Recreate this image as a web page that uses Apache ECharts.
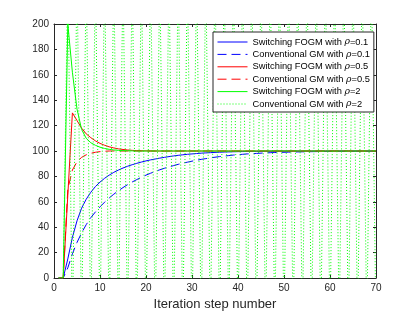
<!DOCTYPE html>
<html>
<head>
<meta charset="utf-8">
<script src="https://cdn.jsdelivr.net/npm/echarts@6/dist/echarts.min.js"></script>
<style>html,body{margin:0;padding:0;background:#fff}#c{width:415px;height:312px}</style>
</head>
<body>
<div id="c"></div>
<script>
var steps = [1,2,3,4,5,6,7,8,9,10,11,12,13,14,15,16,17,18,19,20,21,22,23,24,25,26,27,28,29,30,31,32,33,34,35,36,37,38,39,40,41,42,43,44,45,46,47,48,49,50,51,52,53,54,55,56,57,58,59,60,61,62,63,64,65,66,67,68,69,70];
var xTicks = [0,10,20,30,40,50,60,70];
var yTicks = [0,20,40,60,80,100,120,140,160,180,200];
var seriesNames = ['Switching FOGM with ρ=0.1','Conventional GM with ρ=0.1','Switching FOGM with ρ=0.5','Conventional GM with ρ=0.5','Switching FOGM with ρ=2','Conventional GM with ρ=2'];
var fogm01 = [0,0,15,32,45,55,62,67.5,72,75.5,78.5,81,83.2,85,86.6,88,89.2,90.3,91.3,92.2,93,93.7,94.4,95,95.6,96.1,96.6,97,97.4,97.7,98,98.3,98.5,98.7,98.9,99.05,99.2,99.3,99.4,99.5,99.55,99.6,99.65,99.7,99.75,99.78,99.8,99.83,99.86,99.88,99.9,99.91,99.92,99.93,99.94,99.95,99.95,99.96,99.96,99.97,99.97,99.97,99.98,99.98,99.98,99.99,99.99,99.99,99.99,99.99];
var gm01 = [0,0,8,19,28,35.5,42,47.5,52,56,59.7,63,66,68.7,71.2,73.5,75.6,77.5,79.3,81,82.5,83.9,85.2,86.4,87.5,88.5,89.5,90.4,91.2,92,92.7,93.4,94,94.6,95.1,95.6,96,96.4,96.8,97.1,97.4,97.7,97.9,98.1,98.3,98.5,98.65,98.8,98.9,99,99.1,99.2,99.28,99.35,99.42,99.48,99.53,99.58,99.62,99.66,99.7,99.73,99.76,99.78,99.8,99.82,99.84,99.86,99.87,99.88];
var fogm05 = [0,0,65,130,124,118,113.5,110.5,108,106,104.5,103.3,102.4,101.7,101.2,100.8,100.5,100.3,100.2,100.1,100.05,100,100,100,100,100,100,100,100,100,100,100,100,100,100,100,100,100,100,100,100,100,100,100,100,100,100,100,100,100,100,100,100,100,100,100,100,100,100,100,100,100,100,100,100,100,100,100,100,100];
var gm05 = [0,0,70,85,91.5,95,97,98.2,99,99.5,99.8,100,100,100,100,100,100,100,100,100,100,100,100,100,100,100,100,100,100,100,100,100,100,100,100,100,100,100,100,100,100,100,100,100,100,100,100,100,100,100,100,100,100,100,100,100,100,100,100,100,100,100,100,100,100,100,100,100,100,100];
var fogm2 = [0,0,200,162,133,117,110,106.5,104.5,103,102,101.3,100.8,100.5,100.3,100.2,100.1,100,100,100,100,100,100,100,100,100,100,100,100,100,100,100,100,100,100,100,100,100,100,100,100,100,100,100,100,100,100,100,100,100,100,100,100,100,100,100,100,100,100,100,100,100,100,100,100,100,100,100,100,100];
var gm2 = [0,0,240,-40,240,-40,240,-40,240,-40,240,-40,240,-40,240,-40,240,-40,240,-40,240,-40,240,-40,240,-40,240,-40,240,-40,240,-40,240,-40,240,-40,240,-40,240,-40,240,-40,240,-40,240,-40,240,-40,240,-40,240,-40,240,-40,240,-40,240,-40,240,-40,240,-40,240,-40,240,-40,240,-40,240,-40];

function pairs(ys){ return steps.map(function(s,i){ return [s, ys[i]]; }); }
var AX = '#262626';
var FONT = 'Liberation Sans';
function mkSeries(name, ys, color, type){
  return { name: name, type: 'line', data: pairs(ys), symbol: 'none', clip: true,
    xAxisIndex: 0, yAxisIndex: 0, animation: false,
    lineStyle: { color: color, width: 1, type: type }, itemStyle: { color: color } };
}
var chart = echarts.init(document.getElementById('c'), null, { renderer: 'canvas' });
var xBase = { type: 'value', min: xTicks[0], max: xTicks[xTicks.length-1], interval: xTicks[1]-xTicks[0],
  splitLine: { show: false }, axisLine: { show: true, onZero: false, lineStyle: { color: AX, width: 1 } },
  axisTick: { show: true, inside: true, length: 3, lineStyle: { color: AX } } };
var yBase = { type: 'value', min: yTicks[0], max: yTicks[yTicks.length-1], interval: yTicks[1]-yTicks[0],
  splitLine: { show: false }, axisLine: { show: true, onZero: false, lineStyle: { color: AX, width: 1 } },
  axisTick: { show: true, inside: true, length: 3, lineStyle: { color: AX } } };
chart.setOption({
  backgroundColor: '#fff',
  animation: false,
  grid: { left: 54, right: 39, top: 24, bottom: 34, containLabel: false, outerBoundsMode: 'none' },
  xAxis: [
    Object.assign({}, xBase, { position: 'bottom', name: 'Iteration step number', nameLocation: 'middle', nameGap: 15,
      nameTextStyle: { color: AX, fontSize: 13, fontFamily: FONT },
      axisLabel: { color: AX, fontSize: 10, fontFamily: FONT, margin: 5 } }),
    Object.assign({}, xBase, { position: 'top', axisLabel: { show: false } })
  ],
  yAxis: [
    Object.assign({}, yBase, { position: 'left', axisLabel: { color: AX, fontSize: 10, fontFamily: FONT, margin: 5 } }),
    Object.assign({}, yBase, { position: 'right', axisLabel: { show: false } })
  ],
  legend: {
    orient: 'vertical', left: 213, top: 32, padding: [4, 4, 2, 4], itemGap: 0.4, itemWidth: 30, itemHeight: 10,
    backgroundColor: '#fff', borderColor: AX, borderWidth: 1, borderRadius: 0,
    data: seriesNames,
    itemStyle: { opacity: 0, color: 'transparent', borderWidth: 0 },
    lineStyle: { width: 1 },
    textStyle: { color: '#000', fontSize: 9.3, fontFamily: FONT, lineHeight: 12,
      rich: { i: { fontStyle: 'italic', fontFamily: 'DejaVu Serif', fontSize: 9.3, color: '#000', lineHeight: 12 } } },
    formatter: function(n){ return n.replace('ρ', '{i|ρ}'); }
  },
  series: [
    mkSeries(seriesNames[0], fogm01, '#0000ff', 'solid'),
    mkSeries(seriesNames[1], gm01, '#0000ff', [9, 5]),
    mkSeries(seriesNames[2], fogm05, '#ff0000', 'solid'),
    mkSeries(seriesNames[3], gm05, '#ff0000', [9, 5]),
    mkSeries(seriesNames[4], fogm2, '#00ff00', 'solid'),
    mkSeries(seriesNames[5], gm2, '#00ff00', [1, 2])
  ]
});
</script>
</body>
</html>
